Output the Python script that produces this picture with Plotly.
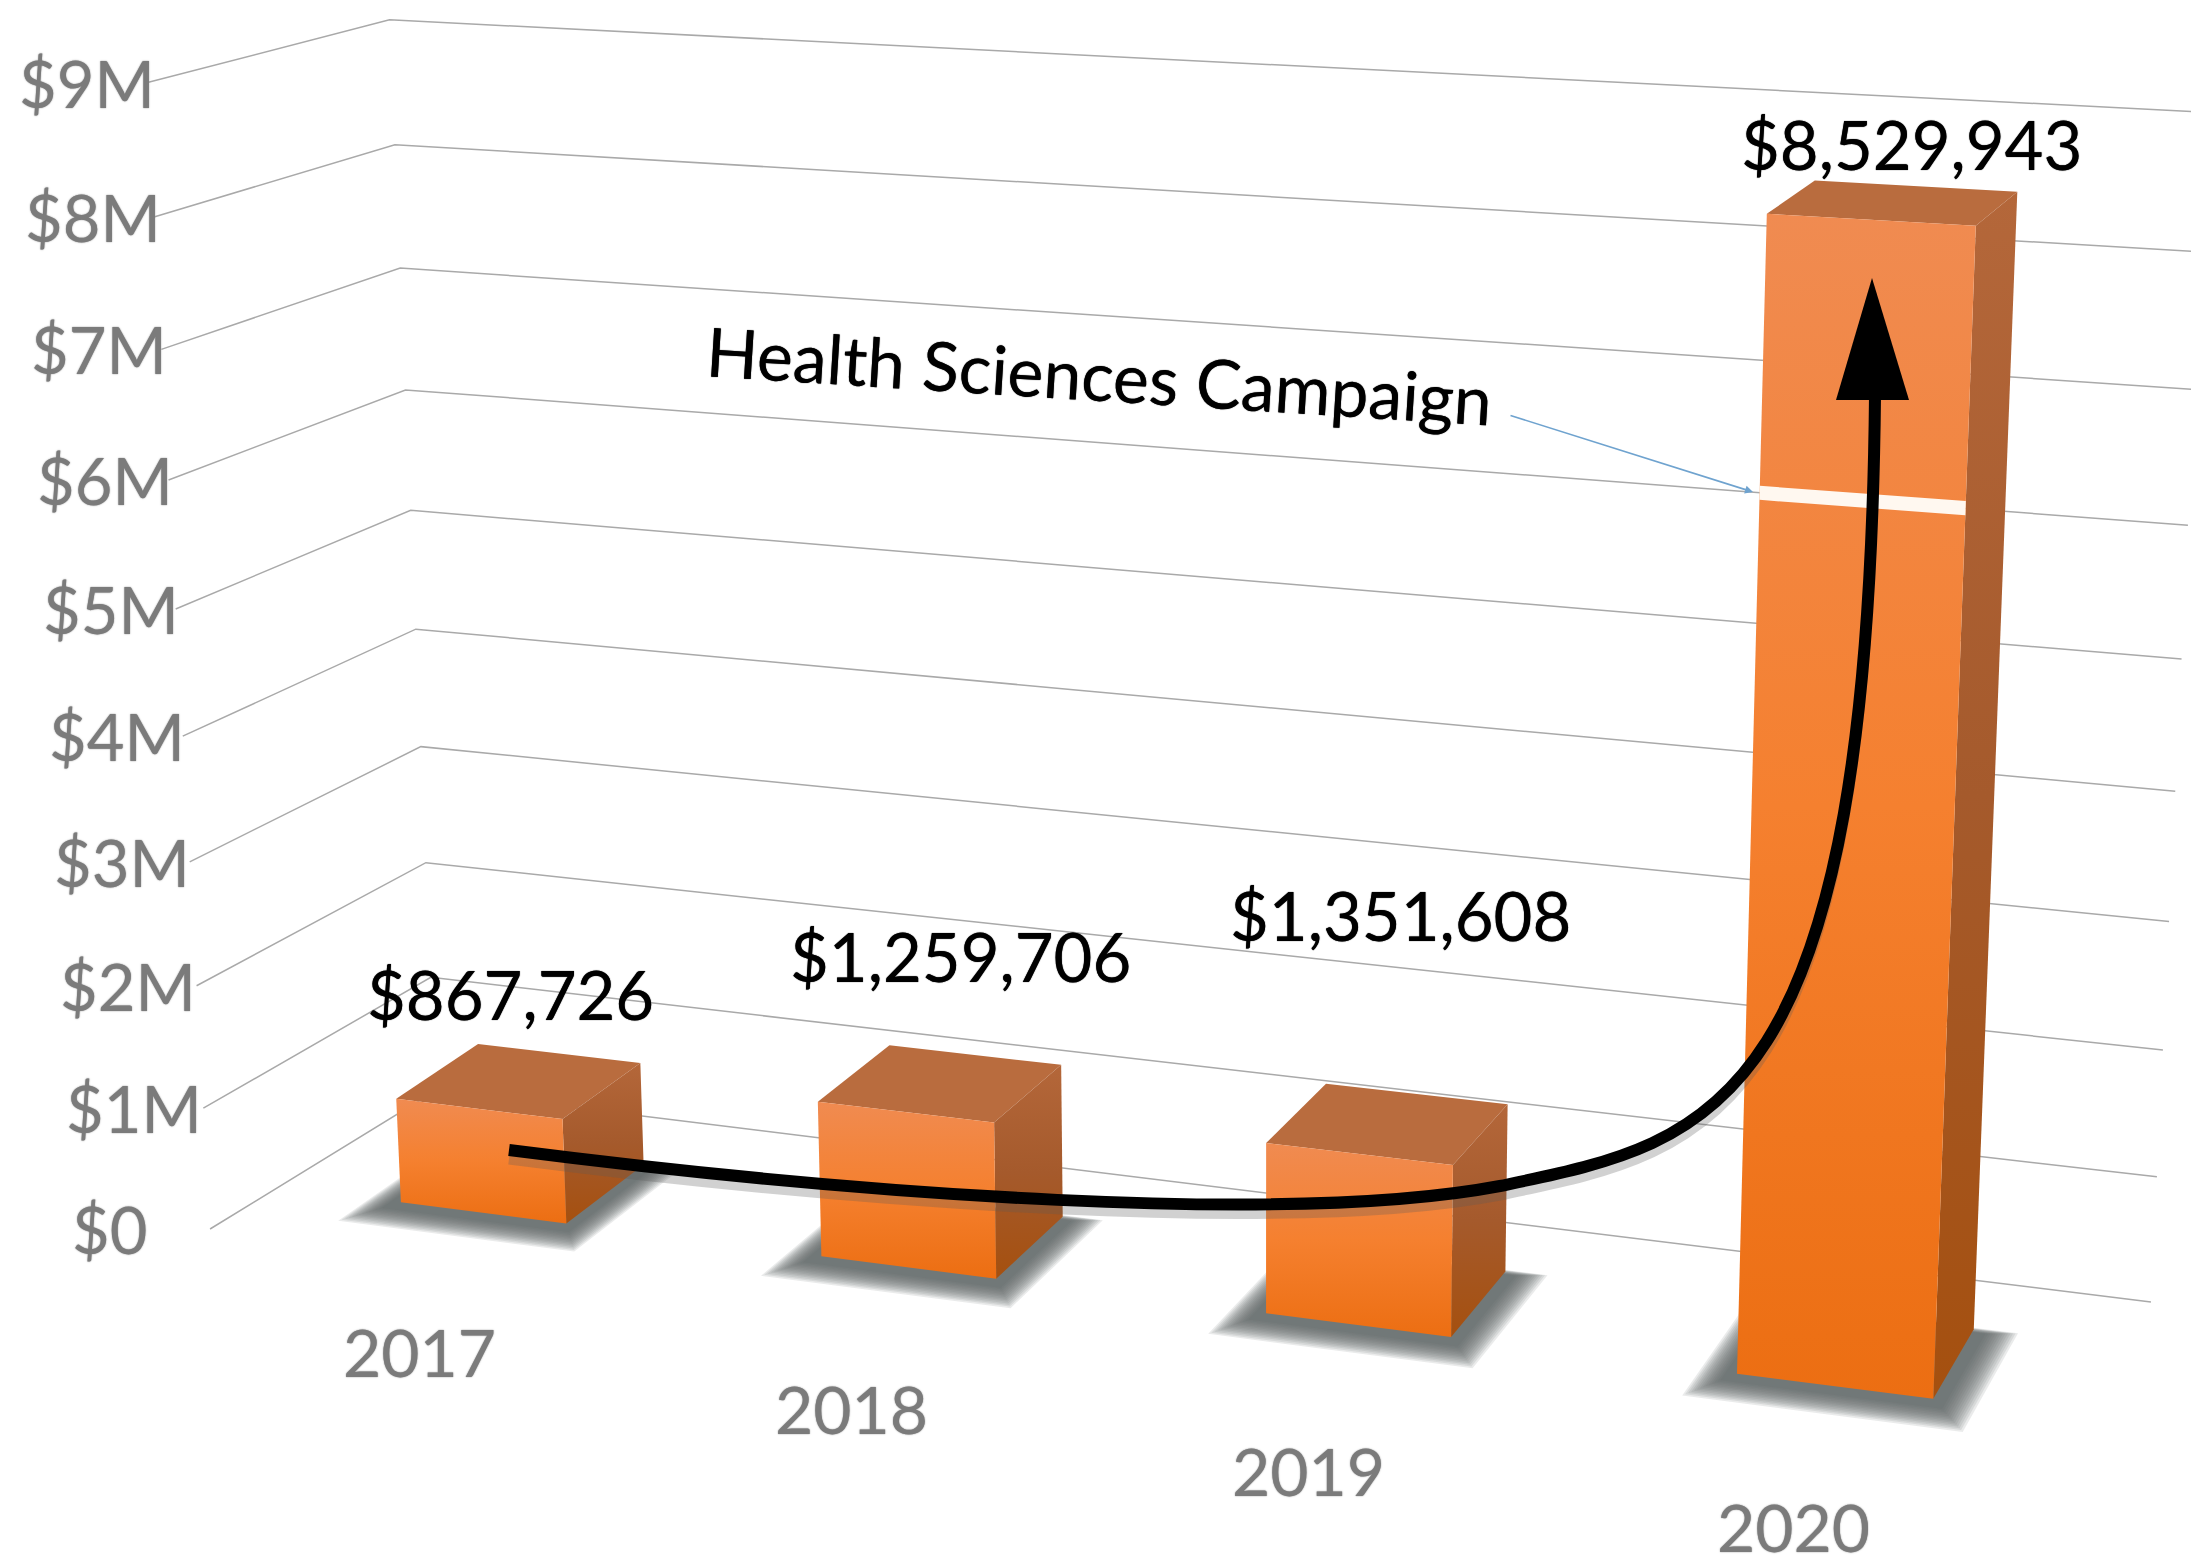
import numpy as np
import plotly.graph_objects as go

# ---- data -------------------------------------------------------------
years = ["2017", "2018", "2019", "2020"]
totals = [867726, 1259706, 1351608, 8529943]
tick_values = [0, 1, 2, 3, 4, 5, 6, 7, 8, 9]
tick_labels = ["$0", "$1M", "$2M", "$3M", "$4M", "$5M", "$6M", "$7M", "$8M", "$9M"]
campaign_label = "Health Sciences Campaign"
campaign_level = 6.57

# ---- camera: (category, depth, $M) -> picture position -------------------
CAMERA = np.array([[400.325, 96.1893, -7.93004, 483.178],
                   [19.8609, -23.4788, -126.915, 1212.91],
                   [-0.0273284, 0.0300098, -0.00631505, 1.0]])
HALF_W = 0.2
WALL_FRONT = (-0.513, -0.721)
WALL_BACK = (-0.47, 1.76)
WALL_RIGHT = (3.516, 1.692)


def proj(cat, depth, val):
    h = CAMERA @ np.array([cat, depth, val, 1.0])
    return float(h[0] / h[2]), float(h[1] / h[2])


def poly(fig, corners, color=None, grad=None):
    pts = [proj(*c) for c in corners]
    pts.append(pts[0])
    xs, ys = [p[0] for p in pts], [p[1] for p in pts]
    kw = dict(x=xs, y=ys, mode="lines", fill="toself", hoverinfo="skip",
              line=dict(width=0, color="rgba(0,0,0,0)"))
    if grad:
        kw["fillgradient"] = dict(type="vertical", start=min(ys), stop=max(ys),
                                  colorscale=[[i / (len(grad) - 1), c] for i, c in enumerate(grad)])
    else:
        kw["fillcolor"] = color
    fig.add_trace(go.Scatter(**kw))


fig = go.Figure()

# ---- gridlines on the two walls ------------------------------------------
for t in tick_values:
    pts = [proj(WALL_FRONT[0], WALL_FRONT[1], t),
           proj(WALL_BACK[0], WALL_BACK[1], t),
           proj(WALL_RIGHT[0], WALL_RIGHT[1], t)]
    fig.add_trace(go.Scatter(x=[p[0] for p in pts], y=[p[1] for p in pts], mode="lines",
                             hoverinfo="skip", line=dict(color="#a9a9a9", width=1.5)))

# ---- bars ----------------------------------------------------------------
SHADOW_STEPS = [1.5, 1.42, 1.34, 1.26, 1.18, 1.1, 1.02, 0.94, 0.86, 0.78, 0.7, 0.62, 0.54, 0.46]
for i, total in enumerate(totals):
    v = total / 1e6
    l, r = i - HALF_W, i + HALF_W
    # soft shadow on the floor
    for f in SHADOW_STEPS:
        poly(fig, [(l - 0.05 * f, -0.25 * f, 0), (r + 0.06 * f, -0.25 * f, 0),
                   (r + 0.06 * f, 0.93 + 0.06 * f, 0), (l - 0.05 * f, 0.93 + 0.06 * f, 0)],
             color="rgba(96,98,104,0.13)")
    # top, side, front faces
    poly(fig, [(l, 0, v), (l, 1, v), (r, 1, v), (r, 0, v)], color="#b96c3e")
    poly(fig, [(r, 0, v), (r, 1, v), (r, 1, 0), (r, 0, 0)], grad=["#b4673a", "#a55a2c", "#a5500f"])
    poly(fig, [(l, 0, v), (r, 0, v), (r, 0, 0), (l, 0, 0)], grad=["#f08b51", "#f5802f", "#ec6e12"])

# white campaign band on the 2020 bar
i = len(totals) - 1
poly(fig, [(i - HALF_W, 0, campaign_level + 0.05), (i + HALF_W, 0, campaign_level + 0.05),
           (i + HALF_W, 0, campaign_level - 0.05), (i - HALF_W, 0, campaign_level - 0.05)],
     color="#fff8f0")

# ---- growth arrow (drawn as a smooth Bezier path) ---------------------------
ARROW_PATH = "M 509 {a} C 860 {b}, 1290 {c}, 1500 {d} C 1710 {e}, 1868 {f}, 1875 396"


def arrow_path(dy):
    return ARROW_PATH.format(a=1150 + dy, b=1195 + dy, c=1226 + dy, d=1186 + dy, e=1142 + dy, f=1120 + dy)


shapes = [dict(type="path", path=arrow_path(9), xref="x", yref="y", layer="above",
               line=dict(color="rgba(90,90,90,0.28)", width=11)),
          dict(type="path", path=arrow_path(0), xref="x", yref="y", layer="above",
               line=dict(color="#000000", width=12))]
fig.add_trace(go.Scatter(x=[1872, 1836, 1909, 1872], y=[278, 400, 400, 278], mode="lines", fill="toself",
                         fillcolor="#000000", hoverinfo="skip", line=dict(width=0, color="#000000")))

# ---- text ----------------------------------------------------------------
ann = []
GREY = "#7b7b7b"
SOFT_GREY = "0 0 1.5px #7b7b7b"
SOFT_BLACK = "0 0 1px #000000"
for t, lab in zip(tick_values, tick_labels):
    fx, fy = proj(WALL_FRONT[0], WALL_FRONT[1], t)
    ann.append(dict(x=19 + (9 - t) * 5.9, y=fy, text=lab, xanchor="left", yanchor="middle",
                    font=dict(family="Lato", size=65, color=GREY, shadow=SOFT_GREY)))
year_x = [419, 851, 1308, 1793]
year_y = [1351, 1408, 1470, 1526]
for lab, x, y in zip(years, year_x, year_y):
    ann.append(dict(x=x, y=y, text=lab, xanchor="center", yanchor="middle",
                    font=dict(family="Lato", size=66, color=GREY, shadow=SOFT_GREY)))
label_x = [510, 960, 1400, 1911]
label_y = [994, 956, 915, 144]
for total, x, y in zip(totals, label_x, label_y):
    ann.append(dict(x=x, y=y, text=f"${total:,}", xanchor="center", yanchor="middle",
                    font=dict(family="Lato", size=67, color="#000000", shadow=SOFT_BLACK)))
ann.append(dict(x=1099, y=374, text=campaign_label, textangle=3.6, xanchor="center", yanchor="middle",
                font=dict(family="Lato", size=68, color="#000000", shadow=SOFT_BLACK)))
for a in ann:
    a.update(xref="x", yref="y", showarrow=False, borderpad=0, borderwidth=0)
ann.append(dict(x=1753, y=492, ax=1509, ay=415, xref="x", yref="y", axref="x", ayref="y", text="",
                showarrow=True, arrowhead=2, arrowsize=1, arrowwidth=1.6, arrowcolor="#6fa3cf"))

fig.update_layout(width=2191, height=1566, margin=dict(l=0, r=0, t=0, b=0), showlegend=False,
                  paper_bgcolor="white", plot_bgcolor="white", annotations=ann, shapes=shapes,
                  xaxis=dict(range=[0, 2191], visible=False, fixedrange=True),
                  yaxis=dict(range=[1566, 0], visible=False, fixedrange=True))
fig.write_html("out.html", config=dict(displayModeBar=False), post_script="document.body.style.margin='0';")
